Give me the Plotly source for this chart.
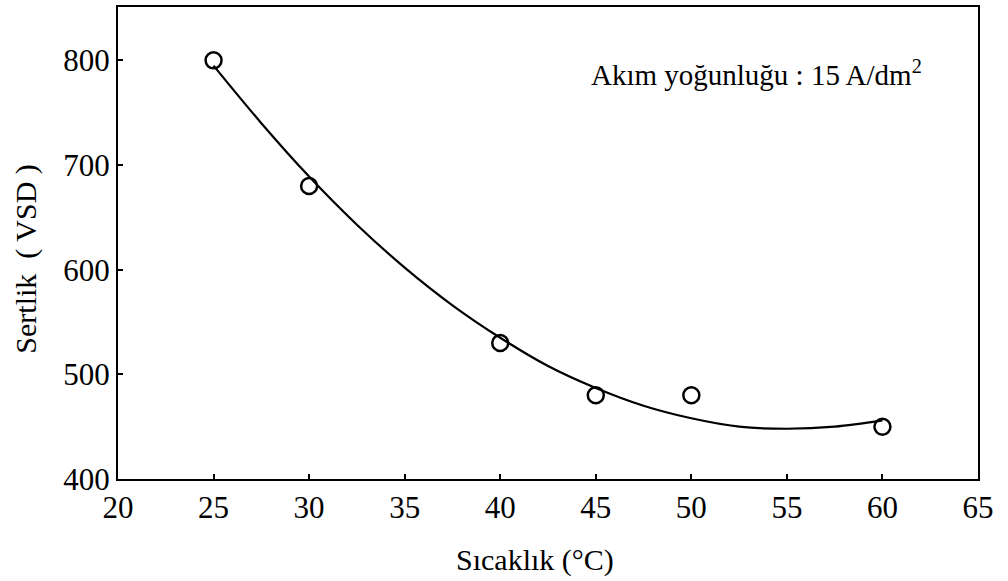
import plotly.graph_objects as go

# Measured data points
temp = [25, 30, 40, 45, 50, 60]
hardness = [800, 680, 530, 480, 480, 450]

# Fitted curve
curve_x = [25, 27.5, 30, 32.5, 35, 37.5, 40, 42.5, 45, 47.5, 50, 52.5, 55, 57.5, 60]
curve_y = [795, 740, 689, 643, 602, 566, 535, 508, 487, 470, 458, 450, 448, 450, 456]

x_ticks = [20, 25, 30, 35, 40, 45, 50, 55, 60, 65]
y_ticks = [400, 500, 600, 700, 800]

FONT = "Liberation Serif, Times New Roman, serif"

fig = go.Figure()
fig.add_trace(go.Scatter(x=curve_x, y=curve_y, mode="lines",
                         line=dict(color="black", width=2.2, shape="spline", smoothing=1.0),
                         hoverinfo="skip", showlegend=False))
fig.add_trace(go.Scatter(x=temp, y=hardness, mode="markers",
                         marker=dict(symbol="circle-open", size=16, color="black",
                                     line=dict(width=2.5, color="black")),
                         showlegend=False))

fig.add_annotation(x=0.937, y=0.86, xref="paper", yref="paper",
                   text="Akım yoğunluğu : 15 A/dm<sup>2</sup>", showarrow=False,
                   xanchor="right", yanchor="middle",
                   font=dict(family=FONT, size=29, color="black"))

# Axis titles
fig.add_annotation(x=0.485, y=-0.172, xref="paper", yref="paper",
                   text="Sıcaklık (°C)", showarrow=False,
                   xanchor="center", yanchor="middle",
                   font=dict(family=FONT, size=30, color="black"))
fig.add_annotation(x=-0.108, y=0.465, xref="paper", yref="paper",
                   text="Sertlik  ( VSD )", showarrow=False, textangle=-90,
                   xanchor="center", yanchor="middle",
                   font=dict(family=FONT, size=30, color="black"))

fig.update_layout(
    width=1008, height=581,
    margin=dict(l=118, r=30, t=5, b=102),
    paper_bgcolor="white", plot_bgcolor="white",
    font=dict(family=FONT, size=30, color="black"),
    xaxis=dict(range=[20, 65], tickvals=x_ticks, ticks="inside", ticklen=5, tickwidth=1.5,
               tickcolor="black", showline=True, linecolor="black", linewidth=2, mirror=True,
               showgrid=False, zeroline=False,
               tickfont=dict(family=FONT, size=31, color="black")),
    yaxis=dict(range=[400, 851], tickvals=y_ticks, ticks="inside", ticklen=5, tickwidth=1.5,
               tickcolor="black", showline=True, linecolor="black", linewidth=2, mirror=True,
               showgrid=False, zeroline=False,
               tickfont=dict(family=FONT, size=31, color="black")),
)

fig.write_html("out.html")
